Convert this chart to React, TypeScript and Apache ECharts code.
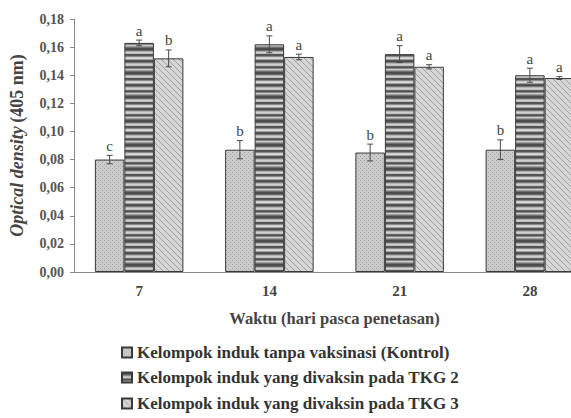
import React, { useEffect, useRef } from "react";
import * as echarts from "echarts";

const categories = ["7", "14", "21", "28"];
const seriesNames = [
  "Kelompok induk tanpa vaksinasi (Kontrol)",
  "Kelompok induk yang divaksin pada TKG 2",
  "Kelompok induk yang divaksin pada TKG 3",
];
const kontrol = [0.08, 0.087, 0.085, 0.087];
const tkg2 = [0.163, 0.162, 0.155, 0.14];
const tkg3 = [0.152, 0.153, 0.146, 0.138];
const errKontrol = [0.003, 0.0065, 0.006, 0.007];
const errTkg2 = [0.002, 0.006, 0.006, 0.005];
const errTkg3 = [0.006, 0.002, 0.0015, 0.001];
const lettersKontrol = ["c", "b", "b", "b"];
const lettersTkg2 = ["a", "a", "a", "a"];
const lettersTkg3 = ["b", "a", "a", "a"];

const values = [kontrol, tkg2, tkg3];
const errors = [errKontrol, errTkg2, errTkg3];
const letters = [lettersKontrol, lettersTkg2, lettersTkg3];

const SERIF = "'Liberation Serif', 'DejaVu Serif', serif";
const BAR_W = 29.5;

function makeCanvas(w: number, h: number, draw: (ctx: CanvasRenderingContext2D) => void) {
  const c = document.createElement("canvas");
  c.width = w;
  c.height = h;
  const ctx = c.getContext("2d")!;
  draw(ctx);
  return c;
}

function dotsPattern() {
  return makeCanvas(4, 4, (ctx) => {
    ctx.fillStyle = "#cbcbcb";
    ctx.fillRect(0, 0, 4, 4);
    ctx.fillStyle = "#a2a2a2";
    ctx.fillRect(0, 0, 1, 1);
    ctx.fillRect(2, 2, 1, 1);
  });
}

function stripesPattern() {
  const rows = [
    "#4c4c4c", "#4c4c4c", "#6a6a6a", "#a8a8a8", "#d4d4d4", "#bcbcbc",
    "#555555", "#555555", "#8c8c8c", "#c8c8c8", "#dddddd", "#9a9a9a",
    "#5a5a5a", "#474747", "#7a7a7a", "#b4b4b4", "#d0d0d0", "#c0c0c0",
    "#666666", "#505050", "#8a8a8a", "#cccccc", "#a0a0a0", "#707070",
  ];
  return makeCanvas(4, rows.length, (ctx) => {
    rows.forEach((c, i) => {
      ctx.fillStyle = c;
      ctx.fillRect(0, i, 4, 1);
    });
  });
}

function hatchPattern() {
  return makeCanvas(6, 6, (ctx) => {
    ctx.fillStyle = "#d6d6d6";
    ctx.fillRect(0, 0, 6, 6);
    ctx.strokeStyle = "#a0a0a0";
    ctx.lineWidth = 1;
    ctx.beginPath();
    ctx.moveTo(-1, -1);
    ctx.lineTo(7, 7);
    ctx.moveTo(-1, 5);
    ctx.lineTo(1, 7);
    ctx.moveTo(5, -1);
    ctx.lineTo(7, 1);
    ctx.stroke();
  });
}

const legendTops = [344, 369, 395];

export default function App() {
  const ref = useRef<HTMLDivElement>(null);
  useEffect(() => {
    if (!ref.current) return;
    const chart = echarts.init(ref.current, undefined, { renderer: "svg" });
    const patterns = [dotsPattern(), stripesPattern(), hatchPattern()];

    const errData: number[][] = [];
    values.forEach((vals, s) => {
      vals.forEach((v, i) => {
        errData.push([i, v, errors[s][i], s]);
      });
    });

    const option: any = {
      animation: false,
      backgroundColor: "#ffffff",
      grid: {
        left: 74,
        width: 521,
        top: 19,
        bottom: 146,
        containLabel: false,
        outerBoundsMode: "none",
      },
      legend: seriesNames.map((n, i) => ({
        orient: "horizontal",
        left: 121,
        top: legendTops[i],
        padding: 0,
        icon: "rect",
        itemWidth: 10,
        itemHeight: 10,
        data: [n],
        textStyle: { fontFamily: SERIF, fontWeight: "bold", fontSize: 17, color: "#333" },
      })),
      xAxis: {
        type: "category",
        data: categories,
        name: "Waktu (hari pasca penetasan)",
        nameLocation: "middle",
        nameGap: 38,
        nameTextStyle: { fontFamily: SERIF, fontWeight: "bold", fontSize: 16.5, color: "#444" },
        axisLine: { lineStyle: { color: "#8a8a8a" } },
        axisTick: { alignWithLabel: true, length: 4, lineStyle: { color: "#8a8a8a" } },
        axisLabel: { fontFamily: SERIF, fontWeight: "bold", fontSize: 15, color: "#444", margin: 11 },
      },
      yAxis: {
        type: "value",
        min: 0,
        max: 0.18,
        interval: 0.02,
        name: "{i|Optical density} {n|(405 nm)}",
        nameLocation: "middle",
        nameGap: 48,
        nameRotate: 90,
        nameTextStyle: {
          rich: {
            i: { fontFamily: SERIF, fontStyle: "italic", fontWeight: "bold", fontSize: 18, color: "#444" },
            n: { fontFamily: SERIF, fontWeight: "bold", fontSize: 18, color: "#444" },
          },
        },
        axisLine: { show: true, lineStyle: { color: "#8a8a8a" } },
        axisTick: { show: true, length: 4, inside: false, lineStyle: { color: "#8a8a8a" } },
        splitLine: { show: false },
        axisLabel: {
          fontFamily: SERIF,
          fontWeight: "bold",
          fontSize: 14,
          color: "#555",
          margin: 10,
          formatter: (v: number) => v.toFixed(2).replace(".", ","),
        },
      },
      series: [
        ...values.map((vals, s) => ({
          name: seriesNames[s],
          type: "bar",
          data: vals,
          barWidth: BAR_W,
          barGap: "0%",
          itemStyle: {
            color: { image: patterns[s], repeat: "repeat" },
            borderColor: "#3a3a3a",
            borderWidth: 1,
          },
        })),
        {
          type: "custom",
          name: "err",
          data: errData,
          z: 10,
          renderItem: (params: any, api: any) => {
            const idx = api.value(0);
            const v = api.value(1);
            const e = api.value(2);
            const s = api.value(3);
            const dx = (s - 1) * BAR_W;
            const top = api.coord([idx, v + e]);
            const bot = api.coord([idx, v - e]);
            const x = top[0] + dx;
            const cap = 3;
            const style = { stroke: "#4a4a4a", lineWidth: 1 };
            return {
              type: "group",
              children: [
                { type: "line", shape: { x1: x, y1: top[1], x2: x, y2: bot[1] }, style },
                { type: "line", shape: { x1: x - cap, y1: top[1], x2: x + cap, y2: top[1] }, style },
                { type: "line", shape: { x1: x - cap, y1: bot[1], x2: x + cap, y2: bot[1] }, style },
                {
                  type: "text",
                  x: x,
                  y: top[1] - 2,
                  style: {
                    text: letters[s][idx],
                    fontFamily: SERIF,
                    fontSize: 15,
                    fill: "#444",
                    align: "center",
                    verticalAlign: "bottom",
                  },
                },
              ],
            };
          },
        },
      ],
    };
    chart.setOption(option);
    return () => chart.dispose();
  }, []);
  return <div ref={ref} style={{ width: 571, height: 418, position: "absolute", left: 0, top: 0 }} />;
}
